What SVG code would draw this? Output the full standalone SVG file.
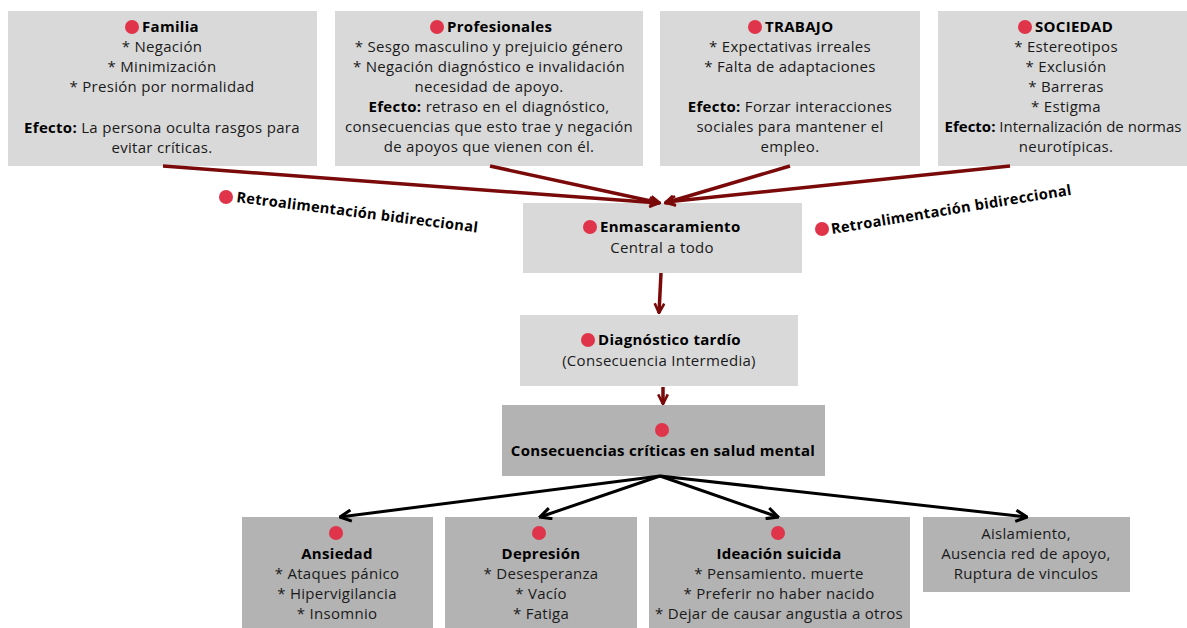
<svg xmlns="http://www.w3.org/2000/svg" width="1187" height="628" viewBox="0 0 1187 628">
<style>
text{font-family:"Open Sans","Liberation Sans",sans-serif;font-size:15px;letter-spacing:0.3px;fill:#1a1a1a;text-anchor:middle}
.b{font-weight:700;fill:#000}
.st{text-anchor:start}
.l{fill:#d9d9d9}
.d{fill:#b3b3b3}
.dot{fill:#e0344a}
.r{stroke:#7a0a0a;stroke-width:3.5;fill:none}
.k{stroke:#000;stroke-width:3;fill:none}
.fb{font-size:14.6px;font-weight:700;fill:#000;text-anchor:start}
.ns{letter-spacing:0}
</style>
<defs>
<marker id="ar" viewBox="0 0 10 10" refX="9" refY="5" markerWidth="12" markerHeight="12" markerUnits="userSpaceOnUse" orient="auto">
<path d="M1,1 L9,5 L1,9" fill="none" stroke="#7a0a0a" stroke-width="2.2"/>
</marker>
<marker id="ak" viewBox="0 0 10 10" refX="9" refY="5" markerWidth="14" markerHeight="14" markerUnits="userSpaceOnUse" orient="auto">
<path d="M1,1 L9,5 L1,9" fill="none" stroke="#000" stroke-width="2.2"/>
</marker>
</defs>
<rect width="1187" height="628" fill="#fff"/>

<g id="familia">
<rect class="l" x="8" y="11" width="309" height="155"/>
<circle class="dot" cx="132" cy="27" r="7"/>
<text class="b st" x="142" y="32">Familia</text>
<text x="162" y="52">* Negación</text>
<text x="162" y="72">* Minimización</text>
<text x="162" y="92">* Presión por normalidad</text>
<text x="162" y="133"><tspan class="b">Efecto:</tspan> La persona oculta rasgos para</text>
<text x="162" y="153">evitar críticas.</text>
</g>

<g id="profesionales">
<rect class="l" x="335" y="11" width="308" height="155"/>
<circle class="dot" cx="437" cy="27" r="7"/>
<text class="b st" x="447" y="32">Profesionales</text>
<text x="489" y="52">* Sesgo masculino y prejuicio género</text>
<text x="489" y="72">* Negación diagnóstico e invalidación</text>
<text x="489" y="92">necesidad de apoyo.</text>
<text x="489" y="112"><tspan class="b">Efecto:</tspan> retraso en el diagnóstico,</text>
<text x="489" y="132">consecuencias que esto trae y negación</text>
<text x="489" y="152">de apoyos que vienen con él.</text>
</g>

<g id="trabajo">
<rect class="l" x="660" y="11" width="260" height="155"/>
<circle class="dot" cx="755" cy="27" r="7"/>
<text class="b st" x="765" y="32">TRABAJO</text>
<text x="790" y="52">* Expectativas irreales</text>
<text x="790" y="72">* Falta de adaptaciones</text>
<text x="790" y="112"><tspan class="b">Efecto:</tspan> Forzar interacciones</text>
<text x="790" y="132">sociales para mantener el</text>
<text x="790" y="152">empleo.</text>
</g>

<g id="sociedad">
<rect class="l" x="938" y="11" width="260" height="155"/>
<circle class="dot" cx="1025" cy="27" r="7"/>
<text class="b st" x="1035" y="32">SOCIEDAD</text>
<text x="1066" y="52">* Estereotipos</text>
<text x="1066" y="72">* Exclusión</text>
<text x="1066" y="92">* Barreras</text>
<text x="1066" y="112">* Estigma</text>
<text class="ns" x="1063" y="132"><tspan class="b">Efecto:</tspan> Internalización de normas</text>
<text x="1066" y="152">neurotípicas.</text>
</g>

<g id="retro-izq">
<circle class="dot" cx="226" cy="197" r="7"/>
<text class="fb" transform="translate(236,202) rotate(7.2)">Retroalimentación bidireccional</text>
</g>
<g id="retro-der">
<circle class="dot" cx="822" cy="229" r="7"/>
<text class="fb" transform="translate(832,234) rotate(-9.3)">Retroalimentación bidireccional</text>
</g>

<g id="enmascaramiento">
<rect class="l" x="523" y="203" width="279" height="70"/>
<circle class="dot" cx="590" cy="227" r="7"/>
<text class="b st" x="600" y="232">Enmascaramiento</text>
<text x="662" y="253">Central a todo</text>
</g>

<g id="diagnostico">
<rect class="l" x="520" y="315" width="278" height="71"/>
<circle class="dot" cx="588" cy="340" r="7"/>
<text class="b st" x="598" y="345">Diagnóstico tardío</text>
<text x="659" y="366">(Consecuencia Intermedia)</text>
</g>

<g id="consecuencias">
<rect class="d" x="502" y="405" width="323" height="71"/>
<circle class="dot" cx="662" cy="430" r="7"/>
<text class="b" x="663" y="456">Consecuencias críticas en salud mental</text>
</g>

<g id="ansiedad">
<rect class="d" x="242" y="517" width="191" height="115"/>
<circle class="dot" cx="336" cy="533" r="7"/>
<text class="b" x="337" y="559">Ansiedad</text>
<text x="337" y="579">* Ataques pánico</text>
<text x="337" y="599">* Hipervigilancia</text>
<text x="337" y="619">* Insomnio</text>
</g>

<g id="depresion">
<rect class="d" x="445" y="517" width="192" height="115"/>
<circle class="dot" cx="539" cy="533" r="7"/>
<text class="b" x="541" y="559">Depresión</text>
<text x="541" y="579">* Desesperanza</text>
<text x="541" y="599">* Vacío</text>
<text x="541" y="619">* Fatiga</text>
</g>

<g id="ideacion">
<rect class="d" x="649" y="517" width="261" height="115"/>
<circle class="dot" cx="778" cy="533" r="7"/>
<text class="b" x="779" y="559">Ideación suicida</text>
<text x="779" y="579">* Pensamiento. muerte</text>
<text x="779" y="599">* Preferir no haber nacido</text>
<text x="779" y="619">* Dejar de causar angustia a otros</text>
</g>

<g id="aislamiento">
<rect class="d" x="923" y="517" width="207" height="75"/>
<text x="1026" y="539">Aislamiento,</text>
<text x="1026" y="559">Ausencia red de apoyo,</text>
<text x="1026" y="579">Ruptura de vinculos</text>
</g>

<g id="connectors">
<line class="r" x1="163" y1="166" x2="659" y2="203" marker-end="url(#ar)"/>
<line class="r" x1="490" y1="166" x2="660" y2="203" marker-end="url(#ar)"/>
<line class="r" x1="790" y1="166" x2="665" y2="203" marker-end="url(#ar)"/>
<line class="r" x1="1010" y1="166" x2="666" y2="202" marker-end="url(#ar)"/>
<line class="r" x1="661" y1="273" x2="659" y2="313" marker-end="url(#ar)"/>
<line class="r" x1="663" y1="387" x2="663" y2="404" marker-end="url(#ar)"/>
<line class="k" x1="660" y1="476" x2="340" y2="517" marker-end="url(#ak)"/>
<line class="k" x1="660" y1="476" x2="540" y2="517" marker-end="url(#ak)"/>
<line class="k" x1="660" y1="476" x2="778" y2="517" marker-end="url(#ak)"/>
<line class="k" x1="660" y1="476" x2="1027" y2="517" marker-end="url(#ak)"/>
</g>
</svg>
